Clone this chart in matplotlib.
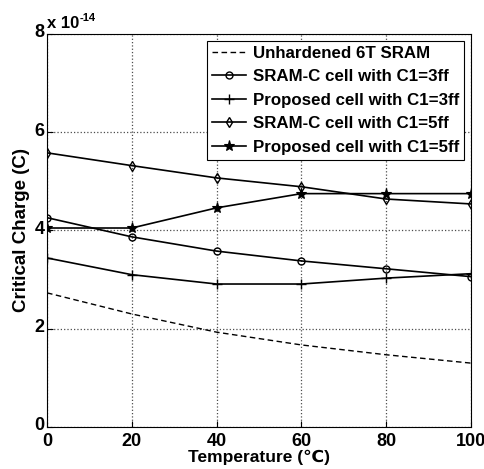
import numpy as np
import matplotlib
matplotlib.use("Agg")
import matplotlib.pyplot as plt
import matplotlib.transforms as mtransforms

temps = [0, 20, 40, 60, 80, 100]
unhardened = [2.73, 2.30, 1.93, 1.67, 1.47, 1.30]
sramc_3ff = [4.26, 3.87, 3.58, 3.38, 3.22, 3.06]
proposed_3ff = [3.44, 3.10, 2.91, 2.91, 3.03, 3.12]
sramc_5ff = [5.58, 5.32, 5.07, 4.89, 4.64, 4.54]
proposed_5ff = [4.05, 4.05, 4.46, 4.75, 4.75, 4.75]

plt.rcParams['font.family'] = ['Liberation Sans', 'DejaVu Sans']
plt.rcParams['font.weight'] = 'bold'

fig = plt.figure(figsize=(4.85, 4.69), dpi=100)
ax = fig.add_axes([0.097, 0.0896, 0.874, 0.838])

lw = 1.2
ax.plot(temps, unhardened, 'k-', dashes=(4, 2.5), lw=1.0, label='Unhardened 6T SRAM')
ax.plot(temps, sramc_3ff, 'k-', lw=lw, marker='o', ms=5, mfc='none', mew=1.0,
        label='SRAM-C cell with C1=3ff')
ax.plot(temps, proposed_3ff, 'k-', lw=lw, marker='+', ms=7, mew=1.0,
        label='Proposed cell with C1=3ff')
ax.plot(temps, sramc_5ff, 'k-', lw=lw, marker='d', ms=5, mfc='none', mew=1.0,
        label='SRAM-C cell with C1=5ff')
ax.plot(temps, proposed_5ff, 'k-', lw=lw, marker='*', ms=8, mfc='k', mew=0.8,
        label='Proposed cell with C1=5ff')

ax.set_xlim(0, 100)
ax.set_ylim(0, 8)
ax.set_xticks([0, 20, 40, 60, 80, 100])
ax.set_yticks([0, 2, 4, 6, 8])
ax.tick_params(direction='in', labelsize=13, length=4)
ax.tick_params(axis='x', pad=4)
ax.tick_params(axis='y', pad=2)
# nudge y tick labels up a bit, like the original
offset = mtransforms.ScaledTranslation(0, 3 / 100, fig.dpi_scale_trans)
for lab in ax.get_yticklabels():
    lab.set_transform(lab.get_transform() + offset)

ax.grid(True, linestyle=':', color='0.3', lw=0.9)
ax.set_xlabel('Temperature (\u2103)', fontsize=12.5, fontweight='bold', labelpad=0)
ax.set_ylabel('Critical Charge (C)', fontsize=13.5, fontweight='bold', labelpad=3)
ax.text(0.0, 1.008, 'x 10', transform=ax.transAxes,
        fontsize=12, fontweight='bold', ha='left', va='bottom')
ax.text(0.077, 1.028, '-14', transform=ax.transAxes,
        fontsize=8, fontweight='bold', ha='left', va='bottom')

leg = ax.legend(loc='upper right', fontsize=12.2, frameon=True, fancybox=False,
                edgecolor='k', framealpha=1, borderpad=0.3, labelspacing=0.5,
                handlelength=2.0, handletextpad=0.4, borderaxespad=0.4)
leg.get_frame().set_linewidth(0.8)

fig.savefig('out.png', dpi=100)
